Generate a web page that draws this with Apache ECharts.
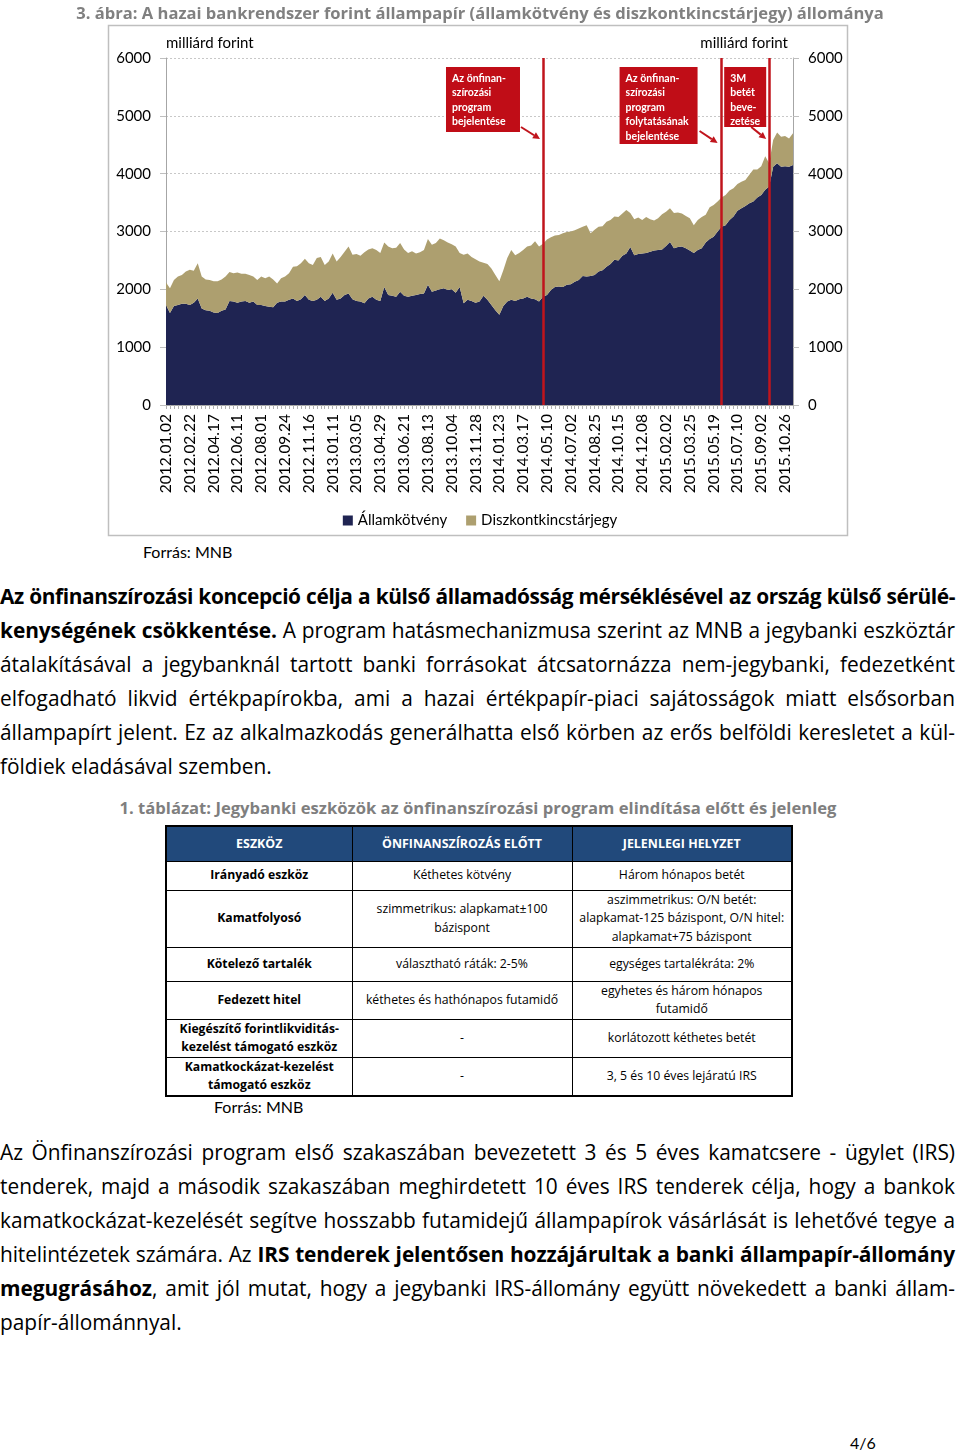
<!DOCTYPE html>
<html><head><meta charset="utf-8">
<script src="https://cdn.jsdelivr.net/npm/echarts@6/dist/echarts.min.js"></script>
<style>
html,body{margin:0;padding:0;background:#fff;}
body{width:960px;height:1454px;position:relative;overflow:hidden;font-family:"Open Sans",sans-serif;color:#000;}
#chart{position:absolute;left:0;top:0;width:960px;height:540px;}
.src{position:absolute;font-family:Lato,sans-serif;font-size:16px;line-height:20px;white-space:nowrap;}
.para{position:absolute;left:0;width:955px;font-size:19px;}
.para div{height:34px;line-height:34px;white-space:nowrap;}
.j{text-align:justify;text-align-last:justify;white-space:normal !important;}
.l{text-align:left;}
b{font-weight:700;}
.cap{position:absolute;left:0;width:956px;text-align:center;color:#7f7f7f;font-weight:700;font-size:16px;line-height:22px;white-space:nowrap;}
table{position:absolute;left:165px;top:825px;width:626px;border-collapse:collapse;table-layout:fixed;font-size:12px;border:2px solid #000;}
td,th{border:1px solid #000;text-align:center;vertical-align:middle;padding:0 1px;line-height:18.5px;}
th{background:#21497b;color:#fff;font-weight:700;font-size:11.5px;}
td.h{font-weight:700;}
#page{position:absolute;left:850px;top:1433px;font-family:Lato,sans-serif;font-size:16px;line-height:20px;}
</style></head><body>
<div id="chart"></div>
<div class="src" style="left:143px;top:542px;">Forrás: MNB</div>

<div class="para" style="top:579px;">
<div class="j"><b>Az önfinanszírozási koncepció célja a külső államadósság mérséklésével az ország külső sérülé-</b></div>
<div class="j"><b>kenységének csökkentése.</b> A program hatásmechanizmusa szerint az MNB a jegybanki eszköztár</div>
<div class="j">átalakításával a jegybanknál tartott banki forrásokat átcsatornázza nem-jegybanki, fedezetként</div>
<div class="j">elfogadható likvid értékpapírokba, ami a hazai értékpapír-piaci sajátosságok miatt elsősorban</div>
<div class="j">állampapírt jelent. Ez az alkalmazkodás generálhatta első körben az erős belföldi keresletet a kül-</div>
<div class="l">földiek eladásával szemben.</div>
</div>

<div class="cap" id="cap" style="top:797px;">1. táblázat: Jegybanki eszközök az önfinanszírozási program elindítása előtt és jelenleg</div>

<table id="tbl">
<colgroup><col style="width:186px"><col style="width:220px"><col style="width:220px"></colgroup>
<tr style="height:35px"><th>ESZKÖZ</th><th>ÖNFINANSZÍROZÁS ELŐTT</th><th>JELENLEGI HELYZET</th></tr>
<tr style="height:29px"><td class="h">Irányadó eszköz</td><td>Kéthetes kötvény</td><td>Három hónapos betét</td></tr>
<tr style="height:57px"><td class="h">Kamatfolyosó</td><td>szimmetrikus: alapkamat±100<br>bázispont</td><td>aszimmetrikus: O/N betét:<br>alapkamat-125 bázispont, O/N hitel:<br>alapkamat+75 bázispont</td></tr>
<tr style="height:34px"><td class="h">Kötelező tartalék</td><td>választható ráták: 2-5%</td><td>egységes tartalékráta: 2%</td></tr>
<tr style="height:35px"><td class="h">Fedezett hitel</td><td>kéthetes és hathónapos futamidő</td><td>egyhetes és három hónapos<br>futamidő</td></tr>
<tr style="height:38px"><td class="h">Kiegészítő forintlikviditás-<br>kezelést támogató eszköz</td><td>-</td><td>korlátozott kéthetes betét</td></tr>
<tr style="height:38px"><td class="h">Kamatkockázat-kezelést<br>támogató eszköz</td><td>-</td><td>3, 5 és 10 éves lejáratú IRS</td></tr>
</table>
<div class="src" style="left:214px;top:1097px;">Forrás: MNB</div>

<div class="para" style="top:1135px;">
<div class="j">Az Önfinanszírozási program első szakaszában bevezetett 3 és 5 éves kamatcsere - ügylet (IRS)</div>
<div class="j">tenderek, majd a második szakaszában meghirdetett 10 éves IRS tenderek célja, hogy a bankok</div>
<div class="j">kamatkockázat-kezelését segítve hosszabb futamidejű állampapírok vásárlását is lehetővé tegye a</div>
<div class="j">hitelintézetek számára. Az <b>IRS tenderek jelentősen hozzájárultak a banki állampapír-állomány</b></div>
<div class="j"><b>megugrásához</b>, amit jól mutat, hogy a jegybanki IRS-állomány együtt növekedett a banki állam-</div>
<div class="l">papír-állománnyal.</div>
</div>
<div id="page">4/6</div>

<script>
// ---- data (milliárd forint) ----
const chartTitle = '3. ábra: A hazai bankrendszer forint állampapír (államkötvény és diszkontkincstárjegy) állománya';
const tickLabels = ['2012.01.02','2012.02.22','2012.04.17','2012.06.11','2012.08.01','2012.09.24','2012.11.16',
  '2013.01.11','2013.03.05','2013.04.29','2013.06.21','2013.08.13','2013.10.04','2013.11.28','2014.01.23',
  '2014.03.17','2014.05.10','2014.07.02','2014.08.25','2014.10.15','2014.12.08','2015.02.02','2015.03.25',
  '2015.05.19','2015.07.10','2015.09.02','2015.10.26'];
const pointsPerTick = 6;
const seriesNames = ['Államkötvény','Diszkontkincstárjegy'];
const bondValues = [
  1730,1590,1710,1730,1750,1750,1730,1770,1840,1670,1640,1630,1600,1590,1630,1650,1800,1790,1770,1790,
  1800,1770,1790,1730,1730,1710,1700,1690,1770,1790,1790,1820,1840,1800,1830,1900,1820,1800,1820,1870,
  1800,1840,1940,1820,1840,1900,1930,1830,1800,1790,1760,1840,1870,
  1820,1800,2040,1900,1890,1870,1960,1890,1870,1890,1900,1920,1930,2080,1960,1980,2000,2020,1990,2000,
  1940,2040,1760,1820,1800,1770,1790,1890,1820,1730,1640,1560,1710,1790,1820,1800,1830,1840,1870,1840,
  1830,1790,1870,1900,1990,2040,2050,2040,2080,2090,2130,2160,2230,2220,
  2230,2250,2310,2330,2390,2440,2510,2500,2580,2620,2730,2590,2610,2620,2630,2650,2670,2680,2690,2750,
  2820,2710,2730,2740,2710,2670,2630,2680,2710,2810,2870,2910,3000,3080,3110,3200,3260,3360,3400,3440,
  3490,3520,3590,3630,3720,3780,4120,4180,4120,4130,4120,4150];
const billValues = [
  390,430,450,490,500,560,610,550,610,550,530,530,540,550,540,570,500,490,520,480,
  470,480,430,430,490,480,520,480,330,400,430,460,550,600,620,630,630,620,720,690,
  620,640,680,660,720,750,810,770,810,790,880,850,840,
  860,830,770,840,820,850,840,800,760,770,720,720,750,790,810,820,880,830,820,780,
  800,590,840,800,760,750,690,570,620,630,610,580,620,750,860,790,800,840,870,920,
  1000,950,920,960,910,890,890,930,910,910,890,890,850,890,
  740,780,770,760,780,760,750,750,730,750,590,620,630,580,620,560,520,550,610,590,
  580,610,600,570,560,560,480,520,540,480,550,550,520,510,520,510,490,460,460,450,
  490,550,480,500,580,400,460,530,520,520,490,550];
// event markers (index of data point) and their notes
const eventIndex = [95, 140, 152];
const eventNotes = [
  'Az önfinan-\nszírozási\nprogram\nbejelentése',
  'Az önfinan-\nszírozási\nprogram\nfolytatásának\nbejelentése',
  '3M\nbetét\nbeve-\nzetése'];
const yTicks = {min:0, max:6000, step:1000};
const yUnit = 'milliárd forint';

// categories: tick dates, intermediate points get a derived unique key
const categories = bondValues.map((_, i) => {
  const k = Math.floor(i / pointsPerTick), j = i % pointsPerTick;
  return j === 0 ? tickLabels[k] : tickLabels[k] + '/' + j;
});

// text sizing helper (fit a string to a measured target width)
const mctx = document.createElement('canvas').getContext('2d');
function fitSize(text, weight, family, target){
  mctx.font = weight + ' 20px ' + family;
  return 20 * target / mctx.measureText(text).width;
}
const OS = '"Open Sans"';
const titleSize = fitSize(chartTitle, 'bold', OS, 808);

const navy = '#1f2452', tan = '#ad9f6f', red = '#c0141c';
const FONT = 'Lato';
const chart = echarts.init(document.getElementById('chart'), null, {renderer:'canvas'});

const yAxisCommon = {
  type:'value', min:yTicks.min, max:yTicks.max, interval:yTicks.step,
  axisLine:{show:true, lineStyle:{color:'#a6a6a6', width:1}},
  axisTick:{show:true, length:6, lineStyle:{color:'#bfbfbf'}},
  axisLabel:{fontSize:15, color:'#000', fontFamily:FONT, margin:15, formatter:(v) => String(v)},
  name:yUnit, nameLocation:'end', nameGap:7
};

chart.setOption({
  animation:false,
  title:{text:chartTitle, left:'center', top:1,
    textStyle:{color:'#808080', fontSize:titleSize, fontWeight:'bold', fontFamily:'Open Sans'}},
  grid:{left:166, right:167, top:58, bottom:135},
  legend:{top:508, left:'center', itemWidth:10, itemHeight:10, itemGap:19, icon:'rect',
    textStyle:{fontSize:15, fontFamily:FONT, color:'#000'}, data:seriesNames},
  xAxis:{type:'category', boundaryGap:false, data:categories,
    axisLine:{show:true, lineStyle:{color:'#a6a6a6'}},
    axisTick:{show:true, interval:0, length:4, lineStyle:{color:'#b0b0b0'}},
    axisLabel:{interval:(i) => i % pointsPerTick === 0, rotate:90, margin:9, fontSize:15.5,
      color:'#000', fontFamily:FONT},
    splitLine:{show:false}},
  yAxis:[
    Object.assign({}, yAxisCommon, {position:'left',
      nameTextStyle:{align:'left', fontSize:15, fontFamily:FONT, color:'#000', verticalAlign:'bottom'},
      splitLine:{show:true, lineStyle:{color:'#c8c8c8', type:[2,2], width:1}}}),
    Object.assign({}, yAxisCommon, {position:'right',
      nameTextStyle:{align:'right', fontSize:15, fontFamily:FONT, color:'#000', verticalAlign:'bottom', padding:[0,5,0,0]},
      splitLine:{show:false}})
  ],
  series:[
    {name:seriesNames[0], type:'line', stack:'total', data:bondValues, symbol:'none',
      lineStyle:{width:0}, areaStyle:{color:navy, opacity:1}, itemStyle:{color:navy},
      emphasis:{disabled:true}, z:2},
    {name:seriesNames[1], type:'line', stack:'total', data:billValues, symbol:'none',
      lineStyle:{width:0}, areaStyle:{color:tan, opacity:1}, itemStyle:{color:tan},
      emphasis:{disabled:true}, z:2,
      markLine:{silent:true, symbol:['none','none'], label:{show:false},
        lineStyle:{color:red, width:2.5, type:'solid'},
        emphasis:{disabled:true},
        data:eventIndex.map(i => ({xAxis:categories[i]}))}}
  ]
});

// annotation boxes anchored on the event lines
const boxLayout = [
  {dx:-97, w:74, h:65, a:[-22,69,-3,81]},
  {dx:-102, w:78, h:77, a:[-22,73,-4,85]},
  {dx:-45, w:42, h:60, a:[-18,69,-3,81]}
];
const yTop = chart.convertToPixel({yAxisIndex:0}, yTicks.max);
const g = [{type:'rect', silent:true, z:-1, shape:{x:108.5, y:25.5, width:739, height:510},
  style:{fill:'none', stroke:'#bfbfbf', lineWidth:1.5}}];
eventIndex.forEach((idx, k) => {
  const lx = chart.convertToPixel({xAxisIndex:0}, categories[idx]);
  const L = boxLayout[k];
  const bx = lx + L.dx, by = yTop + 9;
  g.push({type:'rect', silent:true, z:100, shape:{x:bx, y:by, width:L.w, height:L.h}, style:{fill:'#c00d17'}});
  g.push({type:'text', silent:true, z:101, x:bx + 6, y:by + 4,
    style:{text:eventNotes[k], fill:'#fff', font:'bold 10.5px Lato', lineHeight:14.5}});
  const x1 = lx + L.a[0], y1 = yTop + L.a[1], x2 = lx + L.a[2], y2 = yTop + L.a[3];
  const ang = Math.atan2(y2 - y1, x2 - x1), hl = 7, hw = 3.5;
  const bxh = x2 - hl * Math.cos(ang), byh = y2 - hl * Math.sin(ang);
  g.push({type:'line', silent:true, z:100, shape:{x1:x1, y1:y1, x2:bxh, y2:byh}, style:{stroke:red, lineWidth:2}});
  g.push({type:'polygon', silent:true, z:100, shape:{points:[[x2,y2],
    [bxh + hw*Math.sin(ang), byh - hw*Math.cos(ang)], [bxh - hw*Math.sin(ang), byh + hw*Math.cos(ang)]]},
    style:{fill:red}});
});
chart.setOption({graphic:g});

// ---- page text sizing ----
const bodySize = fitSize('földiek eladásával szemben.', 'normal', OS, 272);
document.querySelectorAll('.para').forEach(p => p.style.fontSize = bodySize + 'px');
document.getElementById('cap').style.fontSize = fitSize('1. táblázat: Jegybanki eszközök az önfinanszírozási program elindítása előtt és jelenleg', 'bold', OS, 718) + 'px';
const tdSize = fitSize('Három hónapos betét', 'normal', OS, 126);
const tdhSize = fitSize('Irányadó eszköz', 'bold', OS, 98);
const thSize = fitSize('ÖNFINANSZÍROZÁS ELŐTT', 'bold', OS, 160);
document.querySelectorAll('#tbl td').forEach(td => td.style.fontSize = (td.classList.contains('h') ? tdhSize : tdSize) + 'px');
document.querySelectorAll('#tbl th').forEach(th => th.style.fontSize = thSize + 'px');

// keep justified lines on one row each
function fitLines(){
  document.querySelectorAll('.para div').forEach(d => {
    d.style.letterSpacing = '0px';
    const s = document.createElement('span');
    s.style.cssText = 'position:absolute;visibility:hidden;white-space:nowrap;';
    s.innerHTML = d.innerHTML;
    d.parentNode.appendChild(s);
    const w = s.getBoundingClientRect().width; s.remove();
    if (w > 952) d.style.letterSpacing = (-(w - 950) / d.textContent.length) + 'px';
  });
}
fitLines();
if (document.fonts && document.fonts.ready) document.fonts.ready.then(fitLines);
</script>
</body></html>
